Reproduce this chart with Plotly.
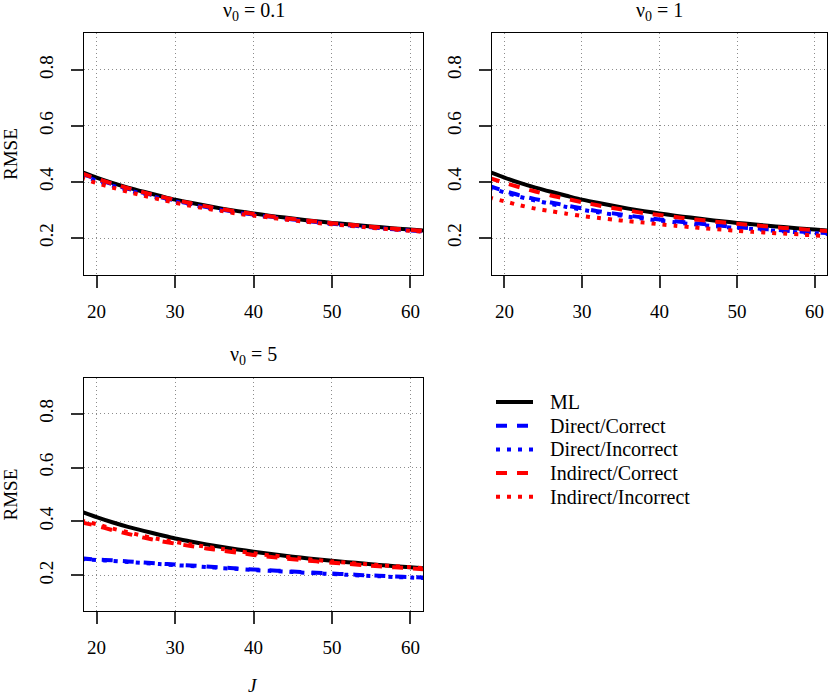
import plotly.graph_objects as go

# number of items J (x axis)
J = [18, 20, 22, 24, 26, 28, 30, 32, 34, 36, 38, 40, 42, 44, 46, 48, 50, 52, 54, 56, 58, 60, 62]

# ML is the same curve in all three panels
ml = [0.437, 0.416, 0.397, 0.380, 0.365, 0.351, 0.337, 0.326, 0.315, 0.305, 0.296, 0.288,
      0.280, 0.273, 0.266, 0.260, 0.254, 0.249, 0.244, 0.239, 0.234, 0.230, 0.226]

# nu0 = 0.1
p1_dir_cor = [0.430, 0.411, 0.392, 0.376, 0.361, 0.347, 0.334, 0.322, 0.311, 0.301, 0.292, 0.284,
              0.277, 0.270, 0.263, 0.257, 0.251, 0.246, 0.241, 0.236, 0.231, 0.227, 0.223]
p1_dir_inc = [0.425, 0.405, 0.387, 0.371, 0.357, 0.343, 0.331, 0.319, 0.309, 0.299, 0.290, 0.282,
              0.275, 0.268, 0.262, 0.256, 0.250, 0.245, 0.240, 0.235, 0.231, 0.227, 0.223]
p1_ind_cor = [0.432, 0.412, 0.394, 0.378, 0.363, 0.349, 0.336, 0.324, 0.313, 0.303, 0.294, 0.286,
              0.278, 0.271, 0.265, 0.259, 0.253, 0.248, 0.243, 0.238, 0.233, 0.229, 0.225]
p1_ind_inc = [0.415, 0.396, 0.380, 0.365, 0.351, 0.338, 0.326, 0.315, 0.305, 0.296, 0.287, 0.280,
              0.273, 0.266, 0.260, 0.254, 0.249, 0.244, 0.239, 0.234, 0.230, 0.226, 0.222]

# nu0 = 1
p2_dir_cor = [0.386, 0.368, 0.352, 0.339, 0.327, 0.316, 0.306, 0.296, 0.288, 0.280, 0.273, 0.266,
              0.260, 0.254, 0.249, 0.244, 0.239, 0.235, 0.231, 0.227, 0.223, 0.220, 0.217]
p2_dir_inc = [0.380, 0.363, 0.347, 0.334, 0.322, 0.311, 0.301, 0.292, 0.284, 0.276, 0.269, 0.262,
              0.256, 0.250, 0.245, 0.240, 0.236, 0.232, 0.228, 0.224, 0.220, 0.217, 0.214]
p2_ind_cor = [0.415, 0.397, 0.381, 0.366, 0.352, 0.340, 0.328, 0.317, 0.307, 0.298, 0.289, 0.282,
              0.275, 0.268, 0.262, 0.256, 0.251, 0.246, 0.241, 0.236, 0.232, 0.228, 0.224]
p2_ind_inc = [0.345, 0.331, 0.317, 0.305, 0.296, 0.287, 0.279, 0.272, 0.266, 0.260, 0.255, 0.249,
              0.244, 0.239, 0.234, 0.230, 0.226, 0.222, 0.219, 0.216, 0.213, 0.209, 0.206]

# nu0 = 5
p3_dir_cor = [0.263, 0.259, 0.256, 0.252, 0.248, 0.244, 0.240, 0.237, 0.233, 0.229, 0.226, 0.222,
              0.219, 0.216, 0.213, 0.210, 0.207, 0.204, 0.201, 0.199, 0.196, 0.194, 0.192]
p3_dir_inc = [0.261, 0.257, 0.254, 0.250, 0.246, 0.242, 0.238, 0.235, 0.231, 0.227, 0.224, 0.220,
              0.217, 0.214, 0.211, 0.208, 0.205, 0.202, 0.199, 0.197, 0.194, 0.192, 0.190]
p3_ind_cor = [0.397, 0.384, 0.368, 0.354, 0.340, 0.328, 0.318, 0.309, 0.300, 0.292, 0.284, 0.276,
              0.269, 0.263, 0.257, 0.252, 0.247, 0.243, 0.238, 0.234, 0.230, 0.226, 0.222]
p3_ind_inc = [0.403, 0.390, 0.374, 0.360, 0.346, 0.334, 0.324, 0.315, 0.306, 0.298, 0.290, 0.282,
              0.275, 0.269, 0.263, 0.257, 0.252, 0.247, 0.242, 0.238, 0.234, 0.230, 0.226]

panel_titles = ["ν<sub>0</sub> = 0.1", "ν<sub>0</sub> = 1", "ν<sub>0</sub> = 5"]
series_names = ["ML", "Direct/Correct", "Direct/Incorrect", "Indirect/Correct", "Indirect/Incorrect"]

panels = [
    [ml, p1_dir_cor, p1_dir_inc, p1_ind_cor, p1_ind_inc],
    [ml, p2_dir_cor, p2_dir_inc, p2_ind_cor, p2_ind_inc],
    [ml, p3_dir_cor, p3_dir_inc, p3_ind_cor, p3_ind_inc],
]

styles = [
    dict(color="black", dash="solid"),
    dict(color="#0000ff", dash="11px,10px"),
    dict(color="#0000ff", dash="4px,7px"),
    dict(color="#ff0000", dash="11px,10px"),
    dict(color="#ff0000", dash="4px,7px"),
]

W, H = 829, 695
FONT = "Liberation Serif"

# plot areas in pixels: (left, right, top, bottom)
boxes = [(84, 423, 33, 275), (492, 827, 33, 275), (84, 423, 378, 611)]

fig = go.Figure()

for p, series in enumerate(panels):
    ax = "" if p == 0 else str(p + 1)
    for k, vals in enumerate(series):
        fig.add_trace(go.Scatter(
            x=J, y=vals, mode="lines",
            name=series_names[k],
            showlegend=False,
            line=dict(color=styles[k]["color"], dash=styles[k]["dash"], width=4,
                      shape="spline", smoothing=0.6),
            xaxis="x" + ax, yaxis="y" + ax,
        ))

layout = dict(
    width=W, height=H,
    margin=dict(l=0, r=0, t=0, b=0),
    paper_bgcolor="white", plot_bgcolor="white",
    font=dict(family=FONT, size=19, color="black"),
    annotations=[], shapes=[],
)

for p, (l, r, t, b) in enumerate(boxes):
    ax = "" if p == 0 else str(p + 1)
    common = dict(showline=True, mirror=True, linecolor="black", linewidth=1.3,
                  ticks="outside", ticklen=12, tickwidth=1.6, tickcolor="#333",
                  showgrid=True, gridcolor="#8c8c8c", gridwidth=1, griddash="1px,3px",
                  zeroline=False, tickfont=dict(family=FONT, size=19))
    layout["xaxis" + ax] = dict(common, domain=[l / W, r / W], range=[18.4, 61.6],
                                tickvals=[20, 30, 40, 50, 60], anchor="y" + ax,
                                ticklabelstandoff=7)
    layout["yaxis" + ax] = dict(common, domain=[1 - b / H, 1 - t / H], range=[0.068, 0.932],
                                tickvals=[0.2, 0.4, 0.6, 0.8], tickformat=".1f",
                                tickangle=-90, anchor="x" + ax, ticklabelstandoff=10)
    layout["annotations"].append(dict(
        text=panel_titles[p], x=(l + r) / 2 / W, y=1 - (t - 22) / H,
        xref="paper", yref="paper", showarrow=False, xanchor="center", yanchor="middle",
        font=dict(family=FONT, size=20)))
    if p != 1:
        layout["annotations"].append(dict(
            text="RMSE", x=10 / W, y=1 - (t + b) / 2 / H, textangle=-90,
            xref="paper", yref="paper", showarrow=False, xanchor="center", yanchor="middle",
            font=dict(family=FONT, size=19)))

layout["annotations"].append(dict(
    text="<i>J</i>", x=253 / W, y=1 - 685 / H, xref="paper", yref="paper",
    showarrow=False, xanchor="center", yanchor="middle", font=dict(family=FONT, size=19)))

# legend drawn by hand, like R's legend(): line sample + label per row
leg_x0, leg_x1, leg_text_x = 496, 533, 548
leg_y0, leg_dy = 402, 23.7
for k, name in enumerate(series_names):
    yk = leg_y0 + k * leg_dy
    layout["shapes"].append(dict(
        type="line", xref="paper", yref="paper",
        x0=leg_x0 / W, x1=leg_x1 / W, y0=1 - yk / H, y1=1 - yk / H,
        line=dict(color=styles[k]["color"], dash=styles[k]["dash"], width=4)))
    layout["annotations"].append(dict(
        text=name, x=leg_text_x / W, y=1 - yk / H, xref="paper", yref="paper",
        showarrow=False, xanchor="left", yanchor="middle", font=dict(family=FONT, size=20)))

fig.update_layout(layout)
fig.write_html("out.html", config={"displayModeBar": False},
               post_script="document.body.style.margin='0px';")
